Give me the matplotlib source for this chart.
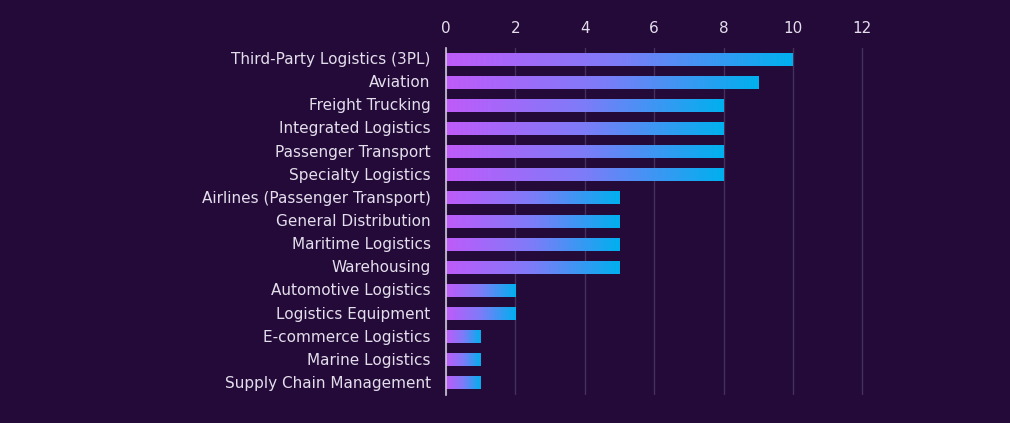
import numpy as np
import matplotlib.pyplot as plt
from matplotlib.colors import LinearSegmentedColormap

categories = [
    "Third-Party Logistics (3PL)",
    "Aviation",
    "Freight Trucking",
    "Integrated Logistics",
    "Passenger Transport",
    "Specialty Logistics",
    "Airlines (Passenger Transport)",
    "General Distribution",
    "Maritime Logistics",
    "Warehousing",
    "Automotive Logistics",
    "Logistics Equipment",
    "E-commerce Logistics",
    "Marine Logistics",
    "Supply Chain Management",
]
values = [10, 9, 8, 8, 8, 8, 5, 5, 5, 5, 2, 2, 1, 1, 1]
x_ticks = [0, 2, 4, 6, 8, 10, 12]

bg = "#230a38"
text_col = "#e4deec"
grid_col = "#45305c"
cmap = LinearSegmentedColormap.from_list("bar", ["#bf5bfa", "#7d7cf8", "#00b0ef"])

plt.rcParams['font.family'] = ['DejaVu Sans']

fig = plt.figure(figsize=(10.1, 4.23), dpi=100, facecolor=bg)
ax = fig.add_axes([0.4416, 0.0662, 0.4294, 0.8203], facecolor=bg)

bar_h = 0.52
grad = np.linspace(0, 1, 256).reshape(1, -1)
for i, v in enumerate(values):
    ax.imshow(grad, cmap=cmap, aspect='auto', interpolation='bilinear',
              extent=[0, v, i + bar_h / 2, i - bar_h / 2], zorder=3)

ax.set_xlim(0, 12.5)
ax.set_ylim(14.5, -0.5)
ax.set_yticks(range(len(categories)))
ax.set_yticklabels(categories, va='center')
ax.set_xticks(x_ticks)
ax.xaxis.tick_top()
ax.tick_params(axis='both', length=0, colors=text_col, labelsize=11)
ax.tick_params(axis='y', pad=11)
ax.tick_params(axis='x', pad=9)
ax.grid(axis='x', color=grid_col, linewidth=1, zorder=0)
ax.set_axisbelow(True)
for s in ['top', 'right', 'bottom']:
    ax.spines[s].set_visible(False)
ax.spines['left'].set_color('#cfc8da')
ax.spines['left'].set_linewidth(1.2)
ax.spines['left'].set_zorder(4)

fig.savefig("out.png", facecolor=bg)
